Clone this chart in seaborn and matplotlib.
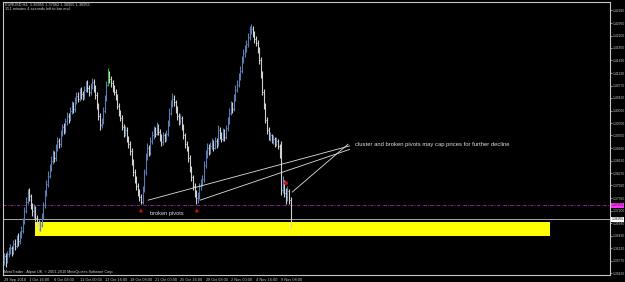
import numpy as np
import pandas as pd
import matplotlib
matplotlib.use("Agg")
import matplotlib.pyplot as plt
import matplotlib.transforms as mtransforms
import seaborn as sns

# ---------------- data (EURUSD H4) ----------------
closes = [1.3590, 1.3575, 1.3595, 1.3605, 1.3612, 1.3600, 1.3625, 1.3618, 1.3640, 1.3632,
          1.3650, 1.3662, 1.3690, 1.3720, 1.3745, 1.3770, 1.3762, 1.3735, 1.3718, 1.3725,
          1.3700, 1.3685, 1.3668, 1.3680, 1.3702, 1.3735, 1.3770, 1.3795, 1.3820, 1.3840,
          1.3862, 1.3880, 1.3870, 1.3900, 1.3918, 1.3910, 1.3940, 1.3958, 1.3950, 1.3975,
          1.3990, 1.3982, 1.4005, 1.4020, 1.4010, 1.4035, 1.4048, 1.4040, 1.4060, 1.4052,
          1.4045, 1.4065, 1.4080, 1.4070, 1.4058, 1.4075, 1.4088, 1.4070, 1.4050, 1.4020,
          1.3990, 1.3965, 1.3975, 1.4005, 1.4040, 1.4080, 1.4100, 1.4095, 1.4085, 1.4070,
          1.4060, 1.4045, 1.4020, 1.4000, 1.3985, 1.3960, 1.3940, 1.3950, 1.3925, 1.3910,
          1.3890, 1.3860, 1.3830, 1.3810, 1.3790, 1.3775, 1.3760, 1.3745, 1.3780, 1.3830,
          1.3875, 1.3900, 1.3885, 1.3920, 1.3935, 1.3950, 1.3940, 1.3960, 1.3945, 1.3930,
          1.3915, 1.3935, 1.3925, 1.3940, 1.3970, 1.4000, 1.4025, 1.4040, 1.4030, 1.4010,
          1.3990, 1.3975, 1.3985, 1.3960, 1.3935, 1.3910, 1.3900, 1.3870, 1.3840, 1.3815,
          1.3790, 1.3770, 1.3755, 1.3760, 1.3790, 1.3800, 1.3810, 1.3850, 1.3880, 1.3900,
          1.3890, 1.3905, 1.3915, 1.3900, 1.3920, 1.3910, 1.3950, 1.3935, 1.3925, 1.3945,
          1.3930, 1.3955, 1.3975, 1.4000, 1.4020, 1.4010, 1.4040, 1.4065, 1.4080, 1.4100,
          1.4120, 1.4150, 1.4170, 1.4180, 1.4195, 1.4215, 1.4235, 1.4240, 1.4225, 1.4210,
          1.4200, 1.4180, 1.4150, 1.4110, 1.4060, 1.4020, 1.3980, 1.3950, 1.3930, 1.3935,
          1.3920, 1.3925, 1.3910, 1.3920, 1.3905, 1.3880, 1.3780, 1.3800, 1.3770, 1.3760,
          1.3775, 1.3750, 1.36955]
highs = [1.3600, 1.3598, 1.3605, 1.3615, 1.3625, 1.3620, 1.3635, 1.3640, 1.3650, 1.3655,
         1.3662, 1.3675, 1.3700, 1.3730, 1.3758, 1.3782, 1.3785, 1.3768, 1.3742, 1.3738,
         1.3732, 1.3708, 1.3692, 1.3690, 1.3712, 1.3745, 1.3780, 1.3808, 1.3832, 1.3852,
         1.3875, 1.3892, 1.3890, 1.3910, 1.3930, 1.3928, 1.3950, 1.3968, 1.3970, 1.3985,
         1.4002, 1.4000, 1.4015, 1.4032, 1.4030, 1.4045, 1.4058, 1.4060, 1.4070, 1.4072,
         1.4062, 1.4075, 1.4090, 1.4092, 1.4078, 1.4085, 1.4098, 1.4095, 1.4078, 1.4058,
         1.4028, 1.3998, 1.3985, 1.4015, 1.4050, 1.4090, 1.4127, 1.4120, 1.4105, 1.4092,
         1.4080, 1.4068, 1.4052, 1.4028, 1.4008, 1.3992, 1.3968, 1.3962, 1.3958, 1.3932,
         1.3918, 1.3898, 1.3868, 1.3838, 1.3818, 1.3798, 1.3782, 1.3768, 1.3790, 1.3840,
         1.3885, 1.3912, 1.3908, 1.3930, 1.3948, 1.3962, 1.3958, 1.3972, 1.3968, 1.3952,
         1.3938, 1.3945, 1.3942, 1.3950, 1.3980, 1.4012, 1.4035, 1.4056, 1.4050, 1.4036,
         1.4018, 1.3998, 1.3995, 1.3990, 1.3968, 1.3942, 1.3918, 1.3905, 1.3878, 1.3848,
         1.3822, 1.3798, 1.3778, 1.3772, 1.3800, 1.3810, 1.3822, 1.3862, 1.3892, 1.3912,
         1.3910, 1.3915, 1.3928, 1.3922, 1.3930, 1.3928, 1.3965, 1.3958, 1.3945, 1.3955,
         1.3952, 1.3965, 1.3988, 1.4012, 1.4032, 1.4030, 1.4052, 1.4078, 1.4092, 1.4112,
         1.4132, 1.4162, 1.4182, 1.4192, 1.4208, 1.4228, 1.4248, 1.4252, 1.4248, 1.4232,
         1.4220, 1.4208, 1.4188, 1.4158, 1.4118, 1.4068, 1.4028, 1.3988, 1.3958, 1.3945,
         1.3940, 1.3935, 1.3930, 1.3930, 1.3925, 1.3910, 1.3920, 1.3820, 1.3808, 1.3785,
         1.3790, 1.3782, 1.3758]
lows = [1.3565, 1.3560, 1.3570, 1.3588, 1.3596, 1.3590, 1.3595, 1.3608, 1.3612, 1.3620,
        1.3625, 1.3642, 1.3655, 1.3682, 1.3712, 1.3738, 1.3748, 1.3725, 1.3705, 1.3700,
        1.3690, 1.3672, 1.3659, 1.3662, 1.3672, 1.3695, 1.3728, 1.3762, 1.3788, 1.3812,
        1.3832, 1.3852, 1.3858, 1.3862, 1.3890, 1.3898, 1.3902, 1.3932, 1.3940, 1.3942,
        1.3965, 1.3970, 1.3975, 1.3995, 1.4000, 1.4002, 1.4025, 1.4030, 1.4032, 1.4040,
        1.4035, 1.4038, 1.4058, 1.4060, 1.4048, 1.4050, 1.4068, 1.4060, 1.4040, 1.4010,
        1.3978, 1.3950, 1.3955, 1.3968, 1.3998, 1.4032, 1.4075, 1.4085, 1.4072, 1.4058,
        1.4050, 1.4035, 1.4010, 1.3990, 1.3975, 1.3950, 1.3930, 1.3932, 1.3915, 1.3898,
        1.3878, 1.3850, 1.3818, 1.3798, 1.3778, 1.3762, 1.3748, 1.3738, 1.3740, 1.3772,
        1.3822, 1.3866, 1.3875, 1.3878, 1.3910, 1.3925, 1.3930, 1.3935, 1.3935, 1.3920,
        1.3905, 1.3908, 1.3915, 1.3918, 1.3932, 1.3962, 1.3992, 1.4015, 1.4020, 1.4000,
        1.3980, 1.3965, 1.3968, 1.3950, 1.3925, 1.3900, 1.3890, 1.3860, 1.3830, 1.3805,
        1.3780, 1.3760, 1.3738, 1.3742, 1.3752, 1.3780, 1.3790, 1.3802, 1.3842, 1.3870,
        1.3880, 1.3882, 1.3895, 1.3890, 1.3895, 1.3900, 1.3905, 1.3925, 1.3915, 1.3918,
        1.3920, 1.3925, 1.3948, 1.3968, 1.3992, 1.4000, 1.4005, 1.4032, 1.4058, 1.4072,
        1.4092, 1.4112, 1.4142, 1.4160, 1.4172, 1.4188, 1.4208, 1.4225, 1.4215, 1.4200,
        1.4190, 1.4170, 1.4140, 1.4100, 1.4050, 1.4010, 1.3970, 1.3940, 1.3922, 1.3920,
        1.3912, 1.3910, 1.3902, 1.3905, 1.3895, 1.3870, 1.3765, 1.3770, 1.3760, 1.3740,
        1.3748, 1.3740, 1.3671]
first_open = 1.3580

tick_bars = [0, 16, 32, 48, 64, 80, 96, 112, 128, 144, 160, 176]
tick_labels = ["29 Sep 2010", "1 Oct 16:00", "6 Oct 08:00", "11 Oct 00:00", "13 Oct 16:00",
               "18 Oct 08:00", "21 Oct 00:00", "25 Oct 16:00", "28 Oct 08:00", "2 Nov 00:00",
               "4 Nov 16:00", "9 Nov 08:00"]
price_ticks = ["1.35420", "1.35770", "1.36130", "1.36490", "1.36840", "1.37200", "1.37560",
               "1.37920", "1.38270", "1.38630", "1.38990", "1.39350", "1.39700", "1.40060",
               "1.40420", "1.40770", "1.41130", "1.41490", "1.41850", "1.42200", "1.42560",
               "1.42920"]

pivot_level = 1.37355
bid_price = 1.36955
zone_bars = [19.8, 346.7]
zone_prices = [1.3648, 1.3688]
pivot_marks_x = [87, 122.5]
pivot_marks_y = [1.3721, 1.3721]
upper_mark_x = [179]
upper_mark_y = [1.3799]
trend_a_x = [91.5, 219.5]
trend_a_y = [1.3750, 1.3905]
trend_b_x = [124.5, 219.5]
trend_b_y = [1.3750, 1.3895]
trend_c_x = [183.0, 218.5]
trend_c_y = [1.3773, 1.3910]
signal_bar = 66

# ---------------- figure ----------------
sns.set_style("dark")
plt.rcParams["font.family"] = ["Liberation Sans", "DejaVu Sans"]

W, H = 625, 282
fig = plt.figure(figsize=(W / 100, H / 100), dpi=100, facecolor="black")
ax = fig.add_axes([3 / W, 7 / H, 607 / W, 273 / H])
ax.set_facecolor("black")

n = len(closes)
idx = np.arange(n)
opens = [first_open] + closes[:-1]
df = pd.DataFrame({"bar": idx, "open": opens, "close": closes, "high": highs, "low": lows})
df["up"] = df["close"] >= df["open"]

up_col = "#5a7cb0"
dn_col = "#d0d0d0"
cols = np.where(df["up"], up_col, dn_col).astype(object)
cols[signal_bar] = "#1fbf1f"

# yellow zone
ax.fill_between(zone_bars, zone_prices[0], zone_prices[1], color="#ffff00", lw=0, zorder=1)

# horizontal lines
ax.axhline(pivot_level, color="#b020b0", lw=0.6, ls=(0, (4, 1.5, 1, 1.5)), zorder=2)
ax.axhline(bid_price, color="#a8a8a8", lw=0.7, zorder=2)

# OHLC bars
ax.vlines(df["bar"], df["low"], df["high"], colors=cols, lw=0.8, zorder=3)
ax.hlines(df["open"], df["bar"] - 0.5, df["bar"], colors=cols, lw=0.5, zorder=3)
ax.hlines(df["close"], df["bar"], df["bar"] + 0.5, colors=cols, lw=0.5, zorder=3)

# trend lines
for tx, ty in [(trend_a_x, trend_a_y), (trend_b_x, trend_b_y), (trend_c_x, trend_c_y)]:
    sns.lineplot(x=tx, y=ty, ax=ax, color="#e0e0e0", lw=0.6, zorder=4)

# pivot markers
sns.scatterplot(x=pivot_marks_x, y=pivot_marks_y, ax=ax, marker="^", s=9,
                color="#c0141a", edgecolor="none", zorder=5)
sns.scatterplot(x=upper_mark_x, y=upper_mark_y, ax=ax, marker="o", s=9,
                color="#c0141a", edgecolor="none", zorder=5)

ax.text(93, 1.3711, "broken pivots", color="#e0e0e0", fontsize=4.1, va="center", ha="left", zorder=6)
ax.text(223, 1.3908, "cluster and broken pivots may cap prices for further decline",
        color="#e0e0e0", fontsize=4.2, va="center", ha="left", zorder=6)

ax.set_xlim(-0.6, 384.8)
ax.set_ylim(1.35363, 1.43160)

# frame
for side, sp in ax.spines.items():
    sp.set_visible(True)
    sp.set_color("#c8c8c8")
    sp.set_linewidth(0.8)

# x ticks
ax.set_xticks(tick_bars)
ax.set_xticklabels(tick_labels)
ax.tick_params(axis="x", colors="#c8c8c8", length=1.5, width=0.5, pad=0.5, labelsize=2.8,
               direction="out")
for lab in ax.get_xticklabels():
    lab.set_horizontalalignment("left")

# y ticks on right
yvals = [float(p) for p in price_ticks]
ax.yaxis.tick_right()
ax.set_yticks(yvals)
ax.set_yticklabels(price_ticks)
ax.tick_params(axis="y", colors="#c8c8c8", length=1.2, width=0.5, pad=0.5, labelsize=2.4,
               direction="out")
ax.grid(False)

# price boxes on the right
trans = mtransforms.blended_transform_factory(ax.transAxes, ax.transData)
ax.text(1.0025, pivot_level, f"{pivot_level:.5f}", transform=trans, fontsize=2.4,
        color="#202020", va="center", ha="left", clip_on=False,
        bbox=dict(boxstyle="square,pad=0.12", fc="#ff30ff", ec="none"))
ax.text(1.0025, bid_price, f"{bid_price:.5f}", transform=trans, fontsize=2.4,
        color="black", va="center", ha="left", clip_on=False,
        bbox=dict(boxstyle="square,pad=0.12", fc="white", ec="none"))

# header / footer texts
fig.text(5 / W, 1 - 4.5 / H, "EURUSD,H4  1.36955 1.37062 1.36955 1.36955", color="#d0d0d0",
         fontsize=2.8, va="center", ha="left")
fig.text(5 / W, 1 - 8.5 / H, "151 minutes 4 seconds left to bar end", color="#d0d0d0",
         fontsize=2.8, va="center", ha="left")
fig.text(4 / W, 1 - 271.5 / H, "MetaTrader - Alpari UK, \u00a9 2001-2010 MetaQuotes Software Corp.",
         color="#d0d0d0", fontsize=2.7, va="center", ha="left")

fig.savefig("out.png", dpi=100, facecolor="black")
